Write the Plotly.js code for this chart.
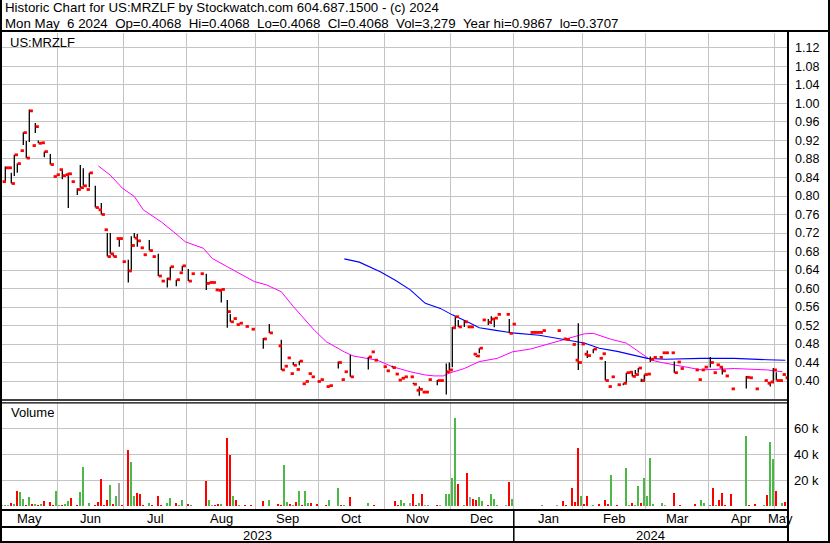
<!DOCTYPE html>
<html><head><meta charset="utf-8">
<script src="https://cdn.plot.ly/plotly-3.0.1.min.js"></script>
<style>html,body{margin:0;padding:0;background:#fff;}#chart{width:830px;height:543px;}</style>
</head><body><div id="chart"></div>
<script>
// ---------------- DATA ----------------
const firstDay = '2023-05-05';   // first trading day shown (weekday axis)
const symbol = 'US:MRZLF';
const headerLine1 = 'Historic Chart for US:MRZLF by Stockwatch.com 604.687.1500 - (c) 2024';
const headerLine2 = 'Mon May  6 2024  Op=0.4068  Hi=0.4068  Lo=0.4068  Cl=0.4068  Vol=3,279  Year hi=0.9867  lo=0.3707';
const monthNames = ['Jan','Feb','Mar','Apr','May','Jun','Jul','Aug','Sep','Oct','Nov','Dec'];

const closes = [
0.831,0.861,0.861,0.827,0.889,0.870,0.898,0.937,0.882,0.984,
0.909,0.950,0.914,0.915,0.896,null,0.868,0.842,0.846,0.857,
0.844,0.846,0.848,0.831,null,0.814,0.818,0.822,0.814,0.850,
null,0.775,0.770,0.760,0.727,0.669,0.675,0.669,0.708,0.708,
0.658,null,0.638,0.693,0.709,0.703,0.688,0.673,null,0.682,
0.669,null,0.627,0.616,null,0.621,0.647,null,0.619,0.634,
0.649,null,0.616,0.632,null,null,0.632,null,0.611,0.613,
0.613,0.597,0.596,0.598,null,0.550,0.528,0.535,0.522,0.525,
null,0.518,null,0.512,null,null,null,0.491,null,0.504,
null,null,0.476,0.424,0.432,0.450,0.416,0.434,0.425,0.443,
0.394,0.399,0.416,0.409,null,0.399,0.403,null,0.388,0.390,
null,null,0.440,0.403,0.420,null,0.409,null,null,null,
null,null,0.452,0.463,0.445,null,null,0.431,0.422,null,
0.429,0.415,0.402,0.406,0.409,null,0.409,0.393,0.380,0.382,
0.376,0.376,0.403,null,null,0.401,0.401,null,0.420,0.424,
0.515,0.539,0.517,null,0.528,0.517,0.517,0.458,0.454,0.471,
0.532,null,0.527,0.534,0.536,0.544,null,null,0.544,0.503,
0.523,null,null,null,null,null,0.505,0.505,0.505,0.505,
0.509,null,null,null,null,0.509,null,0.491,0.490,null,
0.479,0.445,0.440,0.480,0.458,0.455,null,0.469,null,0.449,
0.459,0.401,0.388,0.409,null,0.392,null,0.395,0.418,0.419,
0.410,0.414,0.428,0.401,0.414,0.415,0.447,0.451,null,0.451,
0.461,0.461,null,0.461,0.418,0.441,0.427,null,null,null,
null,0.424,0.403,0.424,0.430,null,0.440,0.418,0.435,0.430,
0.422,0.411,null,0.383,null,null,null,null,0.408,0.407,
null,0.383,null,null,0.401,0.395,0.398,0.424,0.401,0.401,
0.414,0.407];

// null = same as close
const highs = [
null,0.864,null,0.850,null,null,null,0.938,0.919,0.987,
null,0.958,0.920,null,null,null,0.891,null,null,null,
0.857,null,0.850,null,null,0.817,0.867,0.860,null,null,
null,0.822,null,0.785,null,0.720,0.720,0.675,null,null,
null,null,0.662,0.713,0.720,0.718,null,null,null,0.705,
null,null,0.675,null,null,0.623,null,null,null,null,
null,null,0.642,null,null,null,null,null,0.632,null,
null,null,null,null,null,0.575,0.545,null,null,null,
null,null,null,null,null,null,null,0.493,null,0.523,
null,null,null,0.489,null,null,null,0.441,null,null,
null,null,null,null,null,null,null,null,null,null,
null,null,0.442,null,null,null,0.456,null,null,null,
null,null,null,null,null,null,null,null,null,null,
0.433,null,null,null,null,null,null,0.396,null,0.388,
null,null,null,null,null,0.402,null,null,0.438,0.440,
0.517,null,0.532,null,0.531,null,null,null,null,null,
null,null,0.534,0.540,null,null,null,null,null,0.534,
null,null,null,null,null,null,null,null,null,null,
null,null,null,null,null,null,null,null,null,null,
null,null,0.525,null,null,0.466,null,null,null,null,
null,0.443,null,null,null,null,null,null,null,null,
0.421,0.424,null,0.405,null,null,0.453,null,null,null,
null,null,null,null,0.442,null,null,null,null,null,
null,null,null,null,null,null,0.452,null,null,null,
0.431,null,null,null,null,null,null,null,0.411,null,
null,null,null,null,null,null,null,0.428,0.419,null,
null,null];

const lows = [
null,0.831,null,null,0.843,0.850,null,0.910,null,0.917,
null,0.936,null,null,0.884,null,null,null,null,null,
0.836,null,0.774,null,null,0.802,null,null,null,0.819,
null,null,null,null,null,null,null,null,null,0.690,
null,null,0.613,0.640,null,0.690,null,null,null,null,
null,null,null,null,null,0.602,0.618,null,0.605,null,
0.638,null,null,null,null,null,null,null,0.597,null,
null,null,null,0.570,null,0.515,null,null,null,null,
null,null,null,null,null,null,null,0.470,null,null,
null,null,null,null,null,null,null,null,null,0.434,
null,null,null,null,null,null,null,null,null,null,
null,null,0.427,null,null,null,null,null,null,null,
null,null,0.425,null,null,null,null,null,null,null,
null,null,null,null,null,null,null,null,null,0.368,
null,null,null,null,null,0.391,null,null,0.371,null,
0.430,0.516,null,null,0.517,null,null,null,0.452,0.460,
null,null,0.521,0.523,0.516,null,null,null,null,null,
null,null,null,null,null,null,null,null,null,null,
null,null,null,null,null,null,null,null,null,null,
null,null,0.424,null,null,0.450,null,0.460,null,null,
null,null,null,null,null,null,null,0.391,0.395,null,
null,null,0.418,0.398,0.398,null,0.441,null,null,null,
null,null,null,null,null,null,null,null,null,null,
null,null,null,null,null,null,0.429,null,null,null,
0.414,null,null,null,null,null,null,null,0.384,null,
null,null,null,null,null,null,0.388,0.395,null,null,
null,null];

const volumes = [
500,400,700,2300,1500,11800,10800,5600,400,7200,
1500,1500,800,1500,3800,0,3000,400,11800,400,
800,1500,4200,6000,0,400,10800,30000,300,2300,
0,800,3000,20800,1100,5000,16000,1800,8000,17700,
400,0,43000,33800,8000,10000,9000,800,0,2300,
400,0,7700,1100,0,2300,6000,0,2300,800,
4500,0,1500,400,0,0,300,0,19000,5000,
400,800,1500,1500,0,52000,39000,7500,5000,600,
0,1000,0,600,0,0,0,4000,0,5000,
0,0,1800,800,31500,3000,1800,800,3000,11800,
400,11800,2300,2300,0,1500,300,0,1000,5000,
0,0,13800,1000,600,0,7000,0,0,0,
0,0,2300,300,600,0,0,300,300,0,
300,3800,1000,5000,2300,0,2300,9000,800,2300,
9000,600,400,0,0,400,600,0,9000,9000,
21500,67700,17000,0,600,25400,7000,5600,4800,7000,
3800,0,1100,9000,5600,600,0,0,1100,18500,
5600,0,0,0,0,0,300,300,300,300,
600,0,0,0,0,400,0,3500,400,0,
14000,3000,45000,8000,1300,8000,0,600,0,1300,
300,5000,1800,24000,0,1100,0,300,29000,600,
2000,600,15400,2000,21500,8000,37000,1500,0,300,
2300,600,0,300,10000,300,600,0,0,0,
0,1500,300,4500,2000,0,600,14000,600,4500,
10000,600,0,9000,0,0,0,0,54000,500,
0,1500,0,0,1100,8500,49000,36000,11500,300,
2300,3279];

// moving averages (trading-day number, value)
const maFastDay   = [32,36,40,44,47,53,57,61,67,70,75,79,84,88,93,97,104,108,114,117,125,130,136,141,144,147,149,154,159,165,170,176,183,188,194,197,203,208,213,216,219,225,233,244,255,260];
const maFastValue = [0.865,0.845,0.817,0.799,0.770,0.744,0.723,0.701,0.687,0.665,0.647,0.633,0.615,0.608,0.593,0.561,0.510,0.485,0.463,0.454,0.445,0.431,0.420,0.413,0.411,0.411,0.417,0.427,0.442,0.449,0.463,0.469,0.482,0.492,0.502,0.503,0.490,0.482,0.460,0.446,0.441,0.433,0.424,0.427,0.424,0.420];
const maSlowDay   = [114,119,126,131,136,141,146,150,155,159,164,170,179,188,194,199,205,215,221,233,244,255,261];
const maSlowValue = [0.664,0.657,0.636,0.618,0.597,0.568,0.557,0.543,0.528,0.515,0.510,0.504,0.499,0.489,0.482,0.471,0.464,0.449,0.447,0.449,0.449,0.446,0.445];

const priceTicks = [0.40,0.44,0.48,0.52,0.56,0.60,0.64,0.68,0.72,0.76,0.80,0.84,0.88,0.92,0.96,1.00,1.04,1.08,1.12];
const volumeTicks = [20000,40000,60000];
const volumeTickText = ['20 k','40 k','60 k'];

// ---------------- BUILD ----------------
const W = 830, H = 543;
const FONT = 'Liberation Sans, Arial, Helvetica, sans-serif';
const px = v => v / W, py = v => 1 - v / H;
const N = closes.length;

const dates = [];
{ let d = new Date(firstDay + 'T00:00:00Z');
  while (dates.length < N) { const wd = d.getUTCDay(); if (wd > 0 && wd < 6) dates.push(new Date(d)); d.setUTCDate(d.getUTCDate() + 1); } }

const XMIN = -0.1, XMAX = 261.567;
const monthStart = [0];
for (let i = 1; i < N; i++) if (dates[i].getUTCMonth() !== dates[i-1].getUTCMonth()) monthStart.push(i);
const boundaries = monthStart.slice(1).map(i => i - 0.5);
const segEdges = [XMIN, ...boundaries, XMAX];
const yearStart = [];
for (let i = 1; i < N; i++) if (dates[i].getUTCFullYear() !== dates[i-1].getUTCFullYear()) yearStart.push(i);
const yearEdges = [XMIN, ...yearStart.map(i => i - 0.5), XMAX];

// OHLC-style marks
const hlX = [], hlY = [], tkX = [], tkY = [];
closes.forEach((c, i) => {
  if (c == null) return;
  const h = highs[i] ?? c, l = lows[i] ?? c;
  if (h !== l) { hlX.push(i, i, null); hlY.push(l, h, null); }
  tkX.push(i + 0.1, i + 1.2, null); tkY.push(c, c, null);
});

// volume colours from close direction
const GREEN = '#4cb848', RED = '#ff0000', GRAY = '#a0a0a0';
let prev = null;
const volColors = closes.map(c => {
  if (c == null) return GRAY;
  const col = (prev == null || c === prev) ? GRAY : (c > prev ? GREEN : RED);
  prev = c; return col;
});
const volX = [], volY = [], volC = [];
volumes.forEach((v, i) => { if (v > 0) { volX.push(i); volY.push(v); volC.push(volColors[i]); } });

const traces = [
  { type:'scatter', mode:'lines', x:maFastDay, y:maFastValue, xaxis:'x', yaxis:'y', line:{color:'#ff00ff', width:1}, hoverinfo:'skip' },
  { type:'scatter', mode:'lines', x:maSlowDay, y:maSlowValue, xaxis:'x', yaxis:'y', line:{color:'#0000ff', width:1.1}, hoverinfo:'skip' },
  { type:'scatter', mode:'lines', x:hlX, y:hlY, xaxis:'x', yaxis:'y', line:{color:'#000000', width:1.3}, connectgaps:false, hoverinfo:'skip' },
  { type:'scatter', mode:'lines', x:tkX, y:tkY, xaxis:'x', yaxis:'y', line:{color:'#ff0000', width:2.8}, connectgaps:false, hoverinfo:'skip' },
  { type:'bar', x:volX, y:volY, xaxis:'x2', yaxis:'y2', width:0.7, marker:{color:volC, line:{width:0}}, hoverinfo:'skip' }
];

const gridCol = '#c4c4c4';
const xCommon = { domain:[px(2), px(787)], range:[XMIN, XMAX], tickvals:boundaries, showticklabels:false, ticks:'',
  showgrid:true, gridcolor:gridCol, gridwidth:1, zeroline:false, showline:false, fixedrange:true };

const annotations = [
  { xref:'paper', yref:'paper', x:px(3), y:py(8), xanchor:'left', yanchor:'middle', showarrow:false, text:headerLine1.replace(/ /g,'\u00a0'), font:{family:FONT, size:13.3, color:'#000'} },
  { xref:'paper', yref:'paper', x:px(3), y:py(23), xanchor:'left', yanchor:'middle', showarrow:false, text:headerLine2.replace(/ /g,'\u00a0'), font:{family:FONT, size:13.3, color:'#000'} },
  { xref:'paper', yref:'paper', x:px(8), y:py(42), xanchor:'left', yanchor:'middle', showarrow:false, text:symbol, font:{family:FONT, size:13, color:'#000'} },
  { xref:'paper', yref:'paper', x:px(9), y:py(413), xanchor:'left', yanchor:'middle', showarrow:false, text:'Volume', font:{family:FONT, size:13, color:'#000'} }
];
for (let k = 0; k < segEdges.length - 1; k++) {
  const idx = monthStart[k];
  annotations.push({ xref:'x2', yref:'paper', x:(segEdges[k] + segEdges[k+1]) / 2, y:py(518), xanchor:'center', yanchor:'middle',
    showarrow:false, text:monthNames[dates[idx].getUTCMonth()], font:{family:FONT, size:13, color:'#000'} });
}
const yearFirst = [0, ...yearStart];
for (let k = 0; k < yearEdges.length - 1; k++) {
  annotations.push({ xref:'x2', yref:'paper', x:(yearEdges[k] + yearEdges[k+1]) / 2, y:py(535), xanchor:'center', yanchor:'middle',
    showarrow:false, text:String(dates[yearFirst[k]].getUTCFullYear()), font:{family:FONT, size:13, color:'#000'} });
}

const L = (x0, y0, x1, y1, w) => ({ type:'line', xref:'paper', yref:'paper', x0:px(x0), y0:py(y0), x1:px(x1), y1:py(y1), line:{color:'#000', width:w}, layer:'above' });
const shapes = [
  L(0, 31, 830, 31, 2),
  L(1, 0, 1, 543, 2),
  L(829, 0, 829, 543, 2),
  L(0, 542, 830, 542, 2),
  L(788, 31, 788, 543, 2),
  L(0, 400, 788, 400, 1.3),
  L(0, 402.8, 788, 402.8, 1.3),
  L(0, 510, 788, 510, 2),
  L(0, 527, 788, 527, 2),
  ...yearStart.map(i => ({ type:'line', xref:'x2', yref:'paper', x0:i - 0.5, x1:i - 0.5, y0:py(510), y1:py(543), line:{color:'#000', width:1.5}, layer:'above' }))
];

const layout = {
  width:W, height:H, margin:{l:0, r:0, t:0, b:0, pad:0},
  paper_bgcolor:'#ffffff', plot_bgcolor:'#ffffff', showlegend:false, hovermode:false,
  font:{family:FONT, size:12, color:'#000'},
  xaxis:Object.assign({}, xCommon, { anchor:'y' }),
  xaxis2:Object.assign({}, xCommon, { anchor:'y2', matches:'x' }),
  yaxis:{ domain:[py(399), py(33)], range:[0.3611, 1.1524], side:'right', anchor:'x', tickvals:priceTicks, tickformat:'.2f',
    ticks:'', ticklabelstandoff:7, showgrid:true, gridcolor:gridCol, gridwidth:1, zeroline:false, showline:false,
    tickfont:{family:FONT, size:12.5, color:'#000'}, fixedrange:true },
  yaxis2:{ domain:[py(509), py(403)], range:[-2308, 79231], side:'right', anchor:'x2', tickvals:volumeTicks, ticktext:volumeTickText,
    ticks:'', ticklabelstandoff:6, showgrid:true, gridcolor:gridCol, gridwidth:1, zeroline:false, showline:false,
    tickfont:{family:FONT, size:13, color:'#000'}, fixedrange:true },
  bargap:0,
  annotations, shapes
};

Plotly.newPlot('chart', traces, layout, { staticPlot:true, displayModeBar:false });
</script>
</body></html>
